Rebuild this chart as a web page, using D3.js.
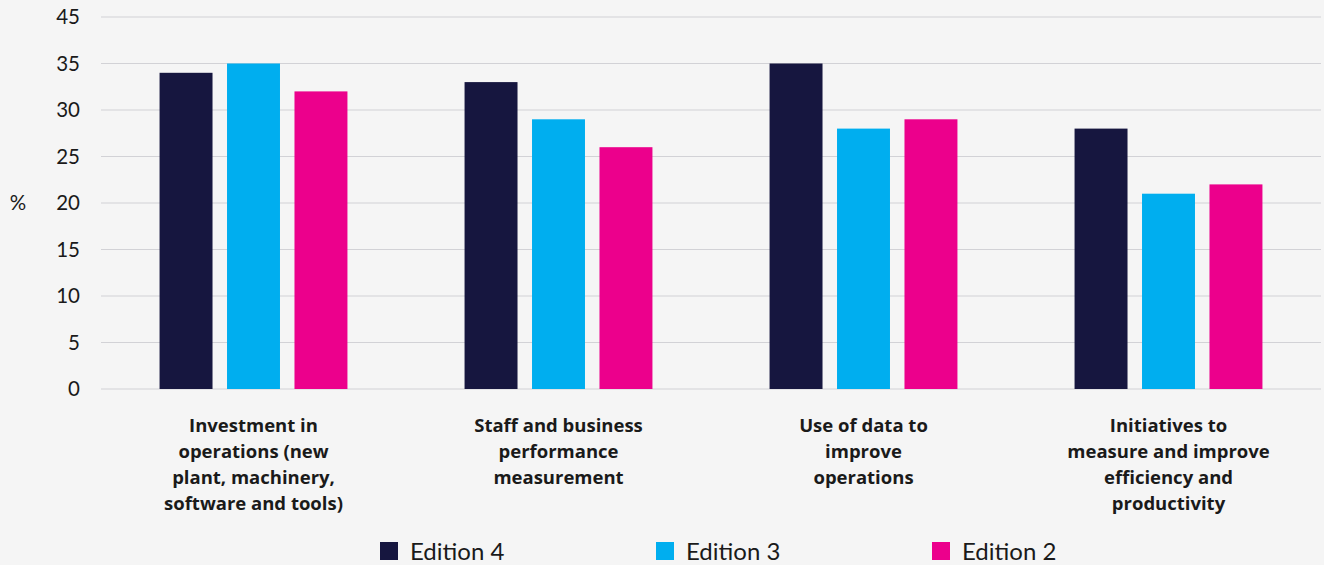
<!DOCTYPE html>
<html>
<head>
<meta charset="utf-8">
<script src="https://cdn.jsdelivr.net/npm/d3@7"></script>
<style>
  html, body { margin: 0; padding: 0; background: #f5f5f5; }
  svg { display: block; }
  text { font-family: Lato, "Open Sans", sans-serif; fill: #1a1a1a; }
  text.cat { font-family: "Open Sans", sans-serif; font-weight: 700; }
</style>
</head>
<body>
<svg id="chart" width="1324" height="565"></svg>
<script>
// Categories (multi-line labels) and the three survey editions
const categories = [
  ["Investment in", "operations (new", "plant, machinery,", "software and tools)"],
  ["Staff and business", "performance", "measurement"],
  ["Use of data to", "improve", "operations"],
  ["Initiatives to", "measure and improve", "efficiency and", "productivity"]
];
const seriesNames = ["Edition 4", "Edition 3", "Edition 2"];
const seriesColors = ["#16163f", "#00aeef", "#ec008c"];

// Share of respondents (%) per category, one array per edition
const edition4 = [34, 33, 35, 28];
const edition3 = [35, 29, 28, 21];
const edition2 = [32, 26, 29, 22];
const seriesValues = [edition4, edition3, edition2];

// Axis ticks as printed on the chart
const tickValues = [0, 5, 10, 15, 20, 25, 30, 35, 40];
const tickLabels = ["0", "5", "10", "15", "20", "25", "30", "35", "45"];

const svg = d3.select("#chart");
const plot = { left: 101, right: 1321, top: 17, bottom: 389 };

const catKeys = categories.map((c, i) => i);
const x0 = d3.scaleBand()
  .domain(catKeys)
  .range([plot.left, plot.right])
  .paddingInner(0.384)
  .paddingOuter(0.192);
const x1 = d3.scaleBand()
  .domain(seriesNames)
  .range([0, x0.bandwidth()])
  .paddingInner(0.215)
  .paddingOuter(0);
const y = d3.scaleLinear().domain([0, 40]).range([plot.bottom, plot.top]);

// Gridlines
svg.append("g")
  .selectAll("line")
  .data(tickValues)
  .join("line")
  .attr("x1", plot.left)
  .attr("x2", plot.right)
  .attr("y1", d => y(d))
  .attr("y2", d => y(d))
  .attr("stroke", "#d2d2d6")
  .attr("stroke-width", 1.2);

// Y axis labels
const yAxis = d3.axisLeft(y)
  .tickValues(tickValues)
  .tickSize(0)
  .tickPadding(0)
  .tickFormat((d, i) => tickLabels[i]);
const yg = svg.append("g")
  .attr("transform", "translate(80,0)")
  .call(yAxis);
yg.select(".domain").remove();
yg.selectAll("text")
  .attr("font-size", 20.5)
  .style("font-family", "Lato, sans-serif")
  .attr("fill", "#1a1a1a");

svg.append("text")
  .attr("x", 18)
  .attr("y", y(20))
  .attr("dy", "0.35em")
  .attr("text-anchor", "middle")
  .attr("font-size", 20.5)
  .text("%");

// Bars
const groups = svg.append("g")
  .selectAll("g")
  .data(catKeys)
  .join("g")
  .attr("transform", d => `translate(${x0(d)},0)`);

groups.selectAll("rect")
  .data(ci => seriesNames.map((s, si) => ({ s, si, v: seriesValues[si][ci] })))
  .join("rect")
  .attr("x", d => x1(d.s))
  .attr("width", x1.bandwidth())
  .attr("y", d => y(d.v))
  .attr("height", d => y(0) - y(d.v))
  .attr("fill", d => seriesColors[d.si]);

// Category labels
const labelG = svg.append("g");
categories.forEach((lines, ci) => {
  const t = labelG.append("text")
    .attr("class", "cat")
    .attr("x", x0(ci) + x0.bandwidth() / 2)
    .attr("y", 432)
    .attr("text-anchor", "middle")
    .attr("font-size", 18.5);
  lines.forEach((ln, li) => {
    t.append("tspan")
      .attr("x", x0(ci) + x0.bandwidth() / 2)
      .attr("dy", li === 0 ? 0 : 26)
      .text(ln);
  });
});

// Legend
const legend = svg.append("g").attr("transform", "translate(380,542)");
const item = legend.selectAll("g")
  .data(seriesNames)
  .join("g")
  .attr("transform", (d, i) => `translate(${i * 276},0)`);
item.append("rect")
  .attr("width", 18)
  .attr("height", 18)
  .attr("fill", (d, i) => seriesColors[i]);
item.append("text")
  .attr("x", 30)
  .attr("y", 18)
  .attr("font-size", 24)
  .text(d => d);
</script>
</body>
</html>
